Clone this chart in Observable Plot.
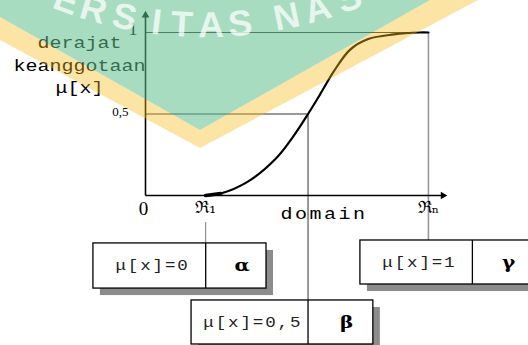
<!DOCTYPE html>
<html>
<head>
<meta charset="utf-8">
<script src="https://cdn.jsdelivr.net/npm/d3@7"></script>
<script src="https://cdn.jsdelivr.net/npm/@observablehq/plot@0.6"></script>
<style>
  html, body { margin: 0; padding: 0; background: #fff; }
  #chart { position: relative; width: 528px; height: 345px; overflow: hidden; }
  #chart > svg { position: absolute; left: 0; top: 0; }
  #seal { pointer-events: none; }
</style>
</head>
<body>
<div id="chart"></div>
<script>
// S-shaped membership curve: domain value -> degree of membership
const domainX    = [20, 25, 34, 43.5, 49, 54, 58, 62.5, 68, 74, 82.5, 91, 94];
const membership = [0, 0.012, 0.085, 0.23, 0.36, 0.5, 0.62, 0.76, 0.895, 0.96, 0.988, 1, 1];

// Reference points on the domain axis (alpha, beta, gamma)
const pointNames = ["ℜ₁", "", "ℜₙ"];
const pointX     = [20, 54, 94];
const pointMu    = [0, 0.5, 1];

// Ticks on the membership axis
const muTicks      = [0, 0.5, 1];
const muTickLabels = ["0", "0,5", "1"];

// Annotation boxes
const boxText   = ["μ[x]=0", "μ[x]=0,5", "μ[x]=1"];
const boxSymbol = ["α", "β", "γ"];

// ---- layout of the annotation boxes (scale units) ----
const boxLeft    = [-17.3, 15.3, 71.4];
const boxDivider = [pointX[0], pointX[1], 108.6];
const boxRight   = [40.2, 75.7, 128.6];
const boxTop     = [-0.294, -0.644, -0.276];
const boxBottom  = [-0.571, -0.914, -0.546];
const guideTop   = [-0.166, pointMu[1], pointMu[2]];

const curve = domainX.map((x, i) => ({x, y: membership[i]}));
const boxes = boxText.map((t, i) => ({
  i, x1: boxLeft[i], xm: boxDivider[i], x2: boxRight[i], y1: boxTop[i], y2: boxBottom[i],
  label: t, symbol: boxSymbol[i]
}));

const mono = "Liberation Mono, Courier New, monospace";
const serif = "Liberation Serif, Times New Roman, serif";

const marks = [];
const tags = [];
function add(mark, tag = null) { marks.push(mark); tags.push(tag); }

// guides from the curve down to the boxes
add(Plot.ruleY([1], {y: d => d, x1: 0, x2: () => pointX[2], stroke: "#333", strokeWidth: 1}));
add(Plot.ruleY([0.5], {y: d => d, x1: 0, x2: () => pointX[1], stroke: "#333", strokeWidth: 1}));
add(Plot.ruleX([0], {x: i => pointX[i], y1: i => guideTop[i], y2: i => boxTop[i], stroke: "#777", strokeWidth: 1}));
add(Plot.ruleX([1], {x: i => pointX[i], y1: i => guideTop[i], y2: i => boxTop[i], stroke: "#555", strokeWidth: 1.2}));
add(Plot.ruleX([2], {x: i => pointX[i], y1: i => guideTop[i], y2: i => boxTop[i], stroke: "#999", strokeWidth: 1.6}));

// axes with arrow heads
add(Plot.link([{x1: 0, y1: 0, x2: 0, y2: 1.1}], {x1: "x1", y1: "y1", x2: "x2", y2: "y2", stroke: "#000", strokeWidth: 1.6}));
add(Plot.link([{x1: 0, y1: 0, x2: 98.5, y2: 0}], {x1: "x1", y1: "y1", x2: "x2", y2: "y2", stroke: "#000", strokeWidth: 1.6}));
add(Plot.dot([{x: 0, y: 1.1}], {x: "x", y: "y", symbol: "triangle2", r: 3.6, fill: "#000", dy: -1}));
add(Plot.dot([{x: 98.5, y: 0}], {x: "x", y: "y", symbol: "triangle2", r: 3.6, fill: "#000", rotate: 90, dx: 1}));

// the membership curve
add(Plot.line(curve, {x: "x", y: "y", curve: "catmull-rom", stroke: "#000", strokeWidth: 2.2}));
add(Plot.line(curve.slice(0, 2), {x: "x", y: "y", stroke: "#000", strokeWidth: 3.6}));

// tick labels
add(Plot.text([2], {x: 0, y: i => muTicks[i], text: i => muTickLabels[i], textAnchor: "end", dx: -8, dy: -3, fontFamily: serif, fontSize: 18}));
add(Plot.text([1], {x: 0, y: i => muTicks[i], text: i => muTickLabels[i], textAnchor: "end", dx: -17, dy: -2, fontFamily: serif, fontSize: 13}));
add(Plot.text([0], {x: 0, y: i => muTicks[i], text: i => muTickLabels[i], textAnchor: "middle", dx: -2, dy: 13, fontFamily: serif, fontSize: 19}));
add(Plot.text([0, 2], {x: i => pointX[i], y: 0, text: i => pointNames[i], textAnchor: "middle", dy: 12, fontFamily: "DejaVu Serif, serif", fontSize: 17}));

// axis titles
add(Plot.text(["derajat\nkeanggotaan\nμ[x]"], {x: -21.9, y: 0.81, text: d => d, textAnchor: "middle", lineHeight: 1.42, fontFamily: mono, fontSize: 16}), "stretch");
add(Plot.text(["domain"], {x: 59.3, y: 0, text: d => d, textAnchor: "middle", dy: 18, fontFamily: mono, fontSize: 16}), "domain");

// boxes with drop shadows
add(Plot.rect(boxes, {x1: "x1", x2: "x2", y1: "y1", y2: "y2", fill: "#8c8c8c", dx: 7, dy: 7}));
add(Plot.rect(boxes, {x1: "x1", x2: "x2", y1: "y1", y2: "y2", fill: "#fff", stroke: "#000", strokeWidth: 1.3}));
add(Plot.ruleX(boxes, {x: "xm", y1: "y1", y2: "y2", stroke: "#000", strokeWidth: 1.3}));
add(Plot.text(boxes, {x: d => (d.x1 + d.xm) / 2, y: d => (d.y1 + d.y2) / 2, text: "label", textAnchor: "middle", dx: 3, fontFamily: mono, fontSize: 14, fill: "#222"}), "box");
add(Plot.text(boxes, {x: d => (d.xm + d.x2) / 2, y: d => (d.y1 + d.y2) / 2, text: "symbol", textAnchor: "middle", dx: 6, fontFamily: "DejaVu Serif, serif", fontWeight: "bold", fontSize: 16}), "stretch");

const svg = Plot.plot({
  width: 528,
  height: 345,
  margin: 0,
  x: {domain: [0, 100], range: [145, 446], axis: null},
  y: {domain: [0, 1], range: [195, 32], axis: null},
  style: {background: "transparent"},
  marks
});

// widen the typewriter lettering
const groups = Array.from(svg.children).filter(n => n.tagName.toLowerCase() !== "style");
if (groups.length === marks.length) {
  groups.forEach((g, k) => {
    const tag = tags[k];
    if (!tag) return;
    if (tag === "box") g.setAttribute("letter-spacing", "1.5");
    if (tag === "domain") g.setAttribute("letter-spacing", "2");
    g.querySelectorAll("text").forEach(t => {
      const tr = t.getAttribute("transform");
      if (tr) t.setAttribute("transform", tr + " scale(1.25,1)");
    });
  });
}
document.getElementById("chart").appendChild(svg);

// university seal in the background, laid over the figure
const ns = "http://www.w3.org/2000/svg";
const seal = document.createElementNS(ns, "svg");
seal.setAttribute("id", "seal");
seal.setAttribute("width", 528);
seal.setAttribute("height", 345);

// ring lettering: circle centred at (205, -378), radius 415; only the part of
// "UNIVERSITAS NASIONAL" that dips into the figure is set
const ringR = 415, ringCx = 205, ringCy = -378;
const ringHalf = 400;
const ringY0 = ringCy + Math.sqrt(ringR * ringR - ringHalf * ringHalf);
const sealLetters = "ERSITASNAS".split("");
const sealCenters = [62, 90, 122, 155, 181, 211, 241, 289, 321, 353];
const arcAt = x => ringR * (Math.asin(ringHalf / ringR) + Math.asin((x - ringCx) / ringR));
const letters = sealLetters.map((c, i) =>
  `<text><textPath href="#ring" startOffset="${arcAt(sealCenters[i]).toFixed(1)}" text-anchor="middle">${c}</textPath></text>`
).join("");

seal.innerHTML = `
  <path d="M0,0 L0,40 L200,148 L478,0 Z M0,0 L430,0 L200,130 L0,17 Z" fill-rule="evenodd" fill="#f7bb1e" fill-opacity="0.4"/>
  <path d="M0,0 L430,0 L200,130 L0,17 Z" fill="#61bf8c" fill-opacity="0.55"/>
  <defs><path id="ring" d="M${ringCx - ringHalf},${ringY0} A${ringR},${ringR} 0 0 0 ${ringCx + ringHalf},${ringY0}"/></defs>
  <g font-family="Liberation Sans, Arial, sans-serif" font-weight="bold" font-size="36" fill="#fff" fill-opacity="0.72">${letters}</g>`;
document.getElementById("chart").appendChild(seal);
</script>
</body>
</html>
